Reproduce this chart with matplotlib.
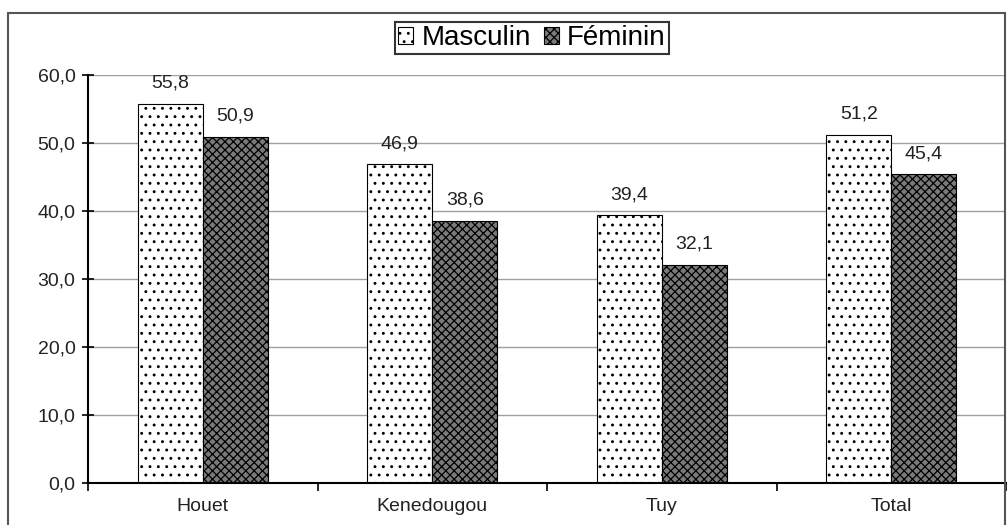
import matplotlib.pyplot as plt
import numpy as np
from matplotlib.patches import Rectangle

plt.rcParams['font.family'] = ['Liberation Sans', 'DejaVu Sans']
plt.rcParams['hatch.linewidth'] = 0.9

categories = ['Houet', 'Kenedougou', 'Tuy', 'Total']
masculin = [55.8, 46.9, 39.4, 51.2]
feminin = [50.9, 38.6, 32.1, 45.4]
yticks = [0, 10, 20, 30, 40, 50, 60]


def fr(v):
    return f'{v:.1f}'.replace('.', ',')


W, H = 1008, 525
fig = plt.figure(figsize=(W / 100, H / 100), dpi=100)
ax = fig.add_axes([88 / W, 42 / H, (1006 - 88) / W, (483 - 75) / H])

x = np.arange(len(categories))
w = 0.283

b1 = ax.bar(x - w / 2, masculin, w, color='white', edgecolor='black',
            linewidth=0.8, hatch='..', label='Masculin')
b2 = ax.bar(x + w / 2, feminin, w, color='#7a7a7a', edgecolor='black',
            linewidth=0.8, hatch='xxxx', label='Féminin')

for bars, vals in [(b1, masculin), (b2, feminin)]:
    for r, v in zip(bars, vals):
        ax.annotate(fr(v), (r.get_x() + r.get_width() / 2, v),
                    xytext=(0, 12), textcoords='offset pixels',
                    ha='center', va='bottom', fontsize=14, color='#222222')

ax.set_xlim(-0.5, len(categories) - 0.5)
ax.set_ylim(0, 60)
ax.set_yticks(yticks)
ax.set_yticklabels([fr(v) for v in yticks], fontsize=14, color='#222222')
ax.set_xticks(x)
ax.set_xticklabels(categories, fontsize=14, color='#222222')
ax.set_xticks(np.arange(len(categories) + 1) - 0.5, minor=True)
ax.tick_params(axis='x', which='major', length=0, pad=11)
ax.tick_params(axis='x', which='minor', length=6, width=1.2, direction='out')
ax.tick_params(axis='y', length=8, width=1.2, direction='inout', pad=5)

ax.yaxis.grid(True, color='#a0a0a0', linewidth=1)
ax.set_axisbelow(True)
for s in ['top', 'right']:
    ax.spines[s].set_visible(False)
ax.spines['left'].set_linewidth(1.5)
ax.spines['bottom'].set_linewidth(1.5)

leg = fig.legend(loc='center', bbox_to_anchor=(532 / W, 1 - 38 / H), ncol=2,
                 fontsize=20, frameon=True, fancybox=False, edgecolor='black',
                 handlelength=0.55, handleheight=0.55, handletextpad=0.3,
                 columnspacing=0.45, borderpad=0.12)
leg.get_frame().set_linewidth(1.5)

# outer chart border, bottom edge falls below the image
fig.patches.append(Rectangle((8, -100), 997, 612, transform=None, fill=False,
                             edgecolor='#555555', linewidth=1.5))

fig.savefig('out.png', dpi=100)
